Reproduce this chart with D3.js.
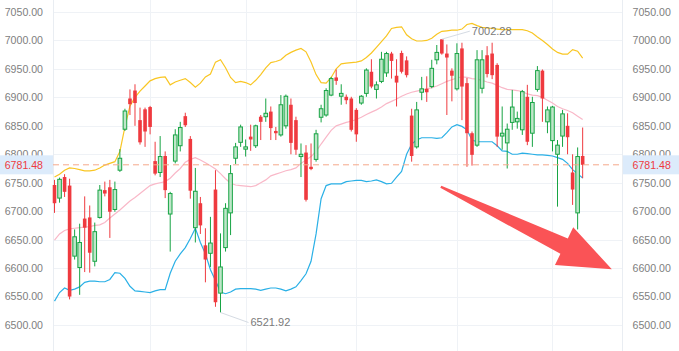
<!DOCTYPE html>
<html><head><meta charset="utf-8">
<script src="https://cdn.jsdelivr.net/npm/d3@7/dist/d3.min.js"></script>
<style>html,body{margin:0;padding:0;background:#fff;}svg{display:block;}</style>
</head><body>
<svg id="chart" width="679" height="351"></svg>
<script>
// ---- data ----
const openP  = [6746,6723,6760,6745,6621,6601,6687,6689,6612,6689,6737,6742,6703,6772,6844,6898,6912,6860,6879,6883,
  6788,6768,6797,6695,6788,6815,6867,6827,6671,6714,6640,6626,6738,6556,6636,6697,6793,6821,6809,6831,
  6815,6866,6866,6875,6841,6834,6850,6887,6860,6796,6803,6778,6791,6865,6869,6904,6935,6902,6901,6898,
  6878,6890,6907,6945,6914,6928,6943,6977,6938,6978,6965,6868,6813,6909,6915,6919,6966,7002,6977,6947,
  6915,6986,6925,6837,6816,6916,6974,6977,6957,6832,6820,6856,6857,6843,6901,6837,6914,6947,6857,6824,
  6800,6832,6850,6768,6697,6797];
const closeP = [6714,6756,6734,6550,6655,6645,6671,6627,6664,6737,6731,6699,6738,6793,6876,6888,6890,6821,6840,6848,
  6766,6796,6737,6731,6834,6847,6851,6736,6735,6675,6615,6644,6540,6602,6705,6766,6813,6848,6813,6826,
  6850,6857,6872,6846,6837,6887,6902,6820,6808,6800,6720,6774,6836,6880,6912,6933,6929,6907,6895,6843,
  6835,6902,6948,6919,6922,6967,6977,6964,6926,6945,6939,6797,6878,6915,6909,6951,6979,6977,6970,6938,
  6977,6919,6837,6799,6966,6966,6941,6939,6831,6837,6844,6883,6863,6910,6822,6891,6947,6898,6878,6883,
  6816,6871,6830,6738,6796,6781.48];
const highP  = [6755,6759,6765,6757,6668,6678,6726,6710,6680,6746,6752,6755,6752,6809,6880,6914,6923,6882,6882,6885,
  6822,6832,6805,6734,6844,6857,6873,6832,6776,6725,6670,6690,6772,6661,6714,6781,6820,6852,6826,6852,
  6852,6869,6898,6884,6848,6904,6905,6898,6866,6819,6816,6819,6843,6887,6916,6936,6949,6923,6905,6901,
  6881,6904,6951,6967,6928,6980,6980,6980,6967,6982,6972,6880,6892,6936,6937,6966,6992,7002.28,6993,6951,
  6995,6996,6934,6840,6983,6983,6990,6996,6960,6884,6854,6913,6875,6913,6922,6901,6955,6949,6884,6885,
  6825,6878,6872,6800,6812,6847];
const lowP   = [6697,6715,6725,6545,6615,6553,6593,6592,6603,6687,6726,6653,6699,6769,6841,6869,6850,6817,6813,6835,
  6763,6760,6723,6629,6784,6805,6848,6722,6645,6660,6575,6602,6532,6521.92,6629,6658,6783,6813,6796,6806,
  6811,6825,6857,6825,6825,6831,6845,6800,6799,6760,6717,6772,6787,6856,6866,6902,6922,6887,6888,6840,
  6822,6887,6901,6916,6898,6925,6936,6933,6884,6942,6935,6787,6810,6895,6892,6916,6958,6975,6869,6893,
  6912,6860,6778,6780,6813,6907,6935,6932,6813,6808,6775,6843,6845,6834,6816,6813,6910,6857,6837,6805,
  6708,6813,6800,6711,6668,6758];
const bollUpper = [6760,6765,6772,6776,6775,6773,6771,6771,6772,6776,6781,6784,6787,6805,6848,6885,6900,6911,6920,6929,
  6933,6935,6936,6922,6927,6930,6933,6926,6918,6925,6936,6941,6962,6966,6952,6935,6926,6928,6926,6922,
  6930,6940,6952,6961,6963,6966,6974,6979,6983,6986,6980,6962,6940,6926,6925,6935,6950,6959,6960,6961,
  6962,6964,6970,6978,6988,6998,7008,7021,7023,7024,7010,7003,6999,6999,7000,7004,7011,7016,7017,7018,
  7018,7020,7028,7030,7026,7023,7022,7021,7020,7019,7019,7019,7019,7019,7017,7013,7006,7000,6993,6985,
  6979,6976,6976,6984,6981,6969];
const bollMid = [6649,6660,6666,6669,6670,6671,6672,6673,6675,6676,6680,6688,6695,6702,6710,6718,6724,6731,6738,6745,
  6748,6750,6752,6758,6767,6775,6786,6791,6794,6790,6785,6780,6774,6766,6757,6749,6746,6745,6744,6743,
  6745,6750,6755,6762,6765,6768,6771,6773,6776,6784,6790,6796,6805,6818,6830,6842,6850,6853,6856,6858,
  6861,6865,6870,6874,6878,6883,6889,6893,6897,6902,6906,6909,6911,6913,6915,6917,6920,6924,6928,6931,
  6934,6936,6935,6933,6932,6930,6927,6925,6921,6917,6914,6913,6912,6910,6906,6904,6903,6900,6895,6890,
  6884,6880,6877,6873,6867,6861];
const bollLower = [6542,6557,6565,6561,6563,6567,6575,6577,6577,6576,6576,6580,6592,6591,6582,6568,6560,6559,6558,6557,
  6560,6562,6562,6591,6612,6625,6636,6652,6670,6645,6625,6597,6578,6558,6555,6558,6563,6564,6564,6564,
  6563,6561,6563,6565,6565,6563,6560,6563,6567,6578,6590,6612,6660,6722,6745,6748,6748,6748,6752,6753,
  6754,6754,6752,6753,6755,6752,6748,6749,6760,6770,6800,6818,6825,6829,6829,6829,6828,6829,6838,6848,
  6852,6849,6843,6825,6822,6822,6822,6822,6815,6806,6805,6800,6800,6802,6801,6800,6799,6799,6798,6797,
  6794,6791,6784,6773,6766,6758];
const yTicks = [6500,6550,6600,6650,6700,6750,6800,6850,6900,6950,7000,7050];
const monthStarts = [19,38,60,80,99];
const lastPrice = 6781.48;
const arrowFrom = {i: 76.8, v: 6743};
const arrowTo   = {i: 110.8, v: 6598};

// ---- layout ----
const W = 679, H = 351;
const plotL = 53, plotR = 622, plotT = 0, plotB = 351;
const N = openP.length;
const step = 5.03;
const font = "'Liberation Sans', Arial, sans-serif";

const x = d3.scaleBand().domain(d3.range(N)).range([plotL - 1, plotL - 1 + N * step]).padding(0);
const cx = i => x(i) + x.bandwidth() / 2;
const xl = d3.scaleLinear().domain([0, N - 1]).range([cx(0), cx(N - 1)]);
const y = d3.scaleLinear().domain([6500, 7050]).range([325, 12]);

const svg = d3.select('#chart');
svg.append('rect').attr('width', W).attr('height', H).attr('fill', '#fff');

const grid = svg.append('g').attr('stroke', '#eff2f6').attr('stroke-width', 1);
grid.selectAll('line.h').data(yTicks).join('line')
  .attr('x1', plotL).attr('x2', plotR)
  .attr('y1', d => Math.round(y(d)) + 0.5).attr('y2', d => Math.round(y(d)) + 0.5);
grid.selectAll('line.v').data(monthStarts).join('line')
  .attr('x1', d => Math.round(cx(d)) + 0.5).attr('x2', d => Math.round(cx(d)) + 0.5)
  .attr('y1', plotT).attr('y2', plotB);
grid.append('line').attr('x1', plotL + 0.5).attr('x2', plotL + 0.5).attr('y1', plotT).attr('y2', plotB).attr('stroke', '#e9edf2');
grid.append('line').attr('x1', plotR + 0.5).attr('x2', plotR + 0.5).attr('y1', plotT).attr('y2', plotB).attr('stroke', '#e9edf2');

// axes
const fmt = d3.format('.2f');
const axL = svg.append('g').attr('transform', `translate(${plotL},0)`)
  .call(d3.axisLeft(y).tickValues(yTicks).tickFormat(fmt).tickSize(0).tickPadding(10));
const axR = svg.append('g').attr('transform', `translate(${plotR},0)`)
  .call(d3.axisRight(y).tickValues(yTicks).tickFormat(fmt).tickSize(0).tickPadding(10.5));
[axL, axR].forEach(a => {
  a.select('.domain').remove();
  a.selectAll('text').attr('fill', '#808080').style('font-family', font).style('font-size', '10.6px');
});

// bollinger lines
const lineGen = arr => d3.line().x((d, i) => cx(i)).y(d => y(d))(arr);
svg.append('path').attr('d', lineGen(bollMid)).attr('fill', 'none').attr('stroke', '#f9b8c8').attr('stroke-width', 1.2);
svg.append('path').attr('d', lineGen(bollLower)).attr('fill', 'none').attr('stroke', '#2ab0e6').attr('stroke-width', 1.2);
svg.append('path').attr('d', lineGen(bollUpper)).attr('fill', 'none').attr('stroke', '#f9c623').attr('stroke-width', 1.2);

// candles
const upStroke = '#17a444', upFill = '#bfe6c9', downCol = '#ef3a3f';
const bw = 3.6;
const cg = svg.append('g');
const idx = d3.range(N);
cg.selectAll('line').data(idx).join('line')
  .attr('x1', i => cx(i)).attr('x2', i => cx(i))
  .attr('y1', i => y(highP[i])).attr('y2', i => y(lowP[i]))
  .attr('stroke', i => closeP[i] >= openP[i] ? upStroke : downCol).attr('stroke-width', 1);
cg.selectAll('rect').data(idx).join('rect')
  .attr('x', i => cx(i) - bw / 2)
  .attr('width', bw)
  .attr('y', i => y(Math.max(openP[i], closeP[i])))
  .attr('height', i => Math.max(1, Math.abs(y(openP[i]) - y(closeP[i]))))
  .attr('fill', i => closeP[i] >= openP[i] ? upFill : downCol)
  .attr('stroke', i => closeP[i] >= openP[i] ? upStroke : 'none')
  .attr('stroke-width', 1);

// last price dashed line
const yp = y(lastPrice);
svg.append('line').attr('x1', plotL).attr('x2', plotR).attr('y1', yp).attr('y2', yp)
  .attr('stroke', '#f5a98a').attr('stroke-width', 1).attr('stroke-dasharray', '6,4');

// high / low marks
const hiI = d3.maxIndex(highP), loI = d3.minIndex(lowP);
const markCol = '#d5dbe3', markTxt = '#7a7a7a';
function mark(i, v, dy) {
  const px = cx(i), py = y(v);
  svg.append('line').attr('x1', px).attr('y1', py).attr('x2', px + 28).attr('y2', py + dy)
    .attr('stroke', markCol).attr('stroke-width', 1);
  svg.append('text').attr('x', px + 30).attr('y', py + dy).attr('dy', '0.35em')
    .attr('fill', markTxt).style('font-family', font).style('font-size', '11px').text(fmt(v));
}
mark(hiI, highP[hiI], -8);
mark(loI, lowP[loI], 10);

// last price label boxes (drawn over the 6800 tick label, as in the reference)
const boxH = 19;
svg.append('rect').attr('x', 0).attr('y', yp - boxH / 2).attr('width', plotL).attr('height', boxH).attr('fill', '#dcebfb');
svg.append('rect').attr('x', plotR + 1).attr('y', yp - boxH / 2).attr('width', W - plotR - 1).attr('height', boxH).attr('fill', '#dcebfb');
svg.append('text').attr('x', plotL - 10).attr('y', yp).attr('dy', '0.35em').attr('text-anchor', 'end')
  .attr('fill', '#ee3b3f').style('font-family', font).style('font-size', '10.6px').text(fmt(lastPrice));
svg.append('text').attr('x', plotR + 10.5).attr('y', yp).attr('dy', '0.35em')
  .attr('fill', '#ee3b3f').style('font-family', font).style('font-size', '10.6px').text(fmt(lastPrice));

// red arrow
(function () {
  const tx = xl(arrowFrom.i), ty = y(arrowFrom.v);
  const px = xl(arrowTo.i), py = y(arrowTo.v);
  const dx = px - tx, dy = py - ty, L = Math.hypot(dx, dy);
  const ux = dx / L, uy = dy / L, nx = -uy, ny = ux;
  const headLen = 53, headHalf = 21, shaftHalf = 8.5, tailHalf = 1.2;
  const bx = px - ux * headLen, by = py - uy * headLen;
  const pts = [
    [tx + nx * tailHalf, ty + ny * tailHalf],
    [bx + nx * shaftHalf, by + ny * shaftHalf],
    [bx + nx * headHalf, by + ny * headHalf],
    [px, py],
    [bx - nx * headHalf, by - ny * headHalf],
    [bx - nx * shaftHalf, by - ny * shaftHalf],
    [tx - nx * tailHalf, ty - ny * tailHalf]
  ];
  svg.append('path').attr('d', d3.line()(pts) + 'Z').attr('fill', '#fa5356');
})();
</script>
</body></html>
